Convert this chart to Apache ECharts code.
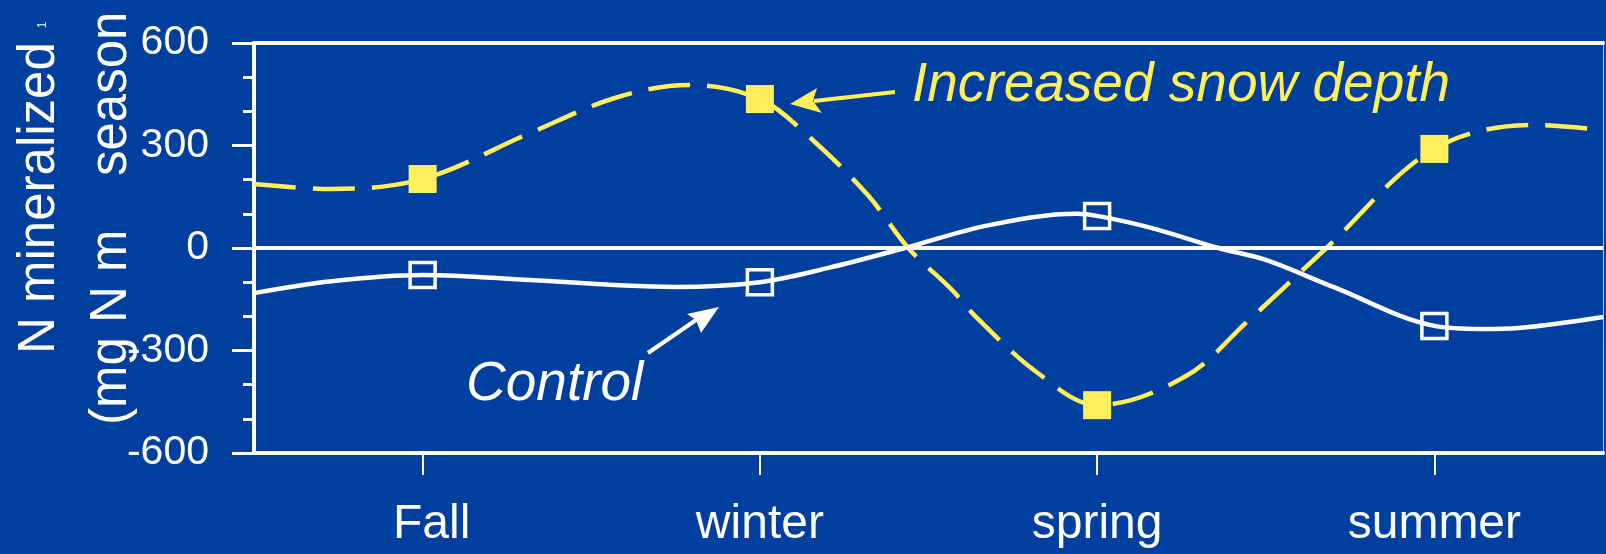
<!DOCTYPE html>
<html>
<head>
<meta charset="utf-8">
<script src="https://cdn.jsdelivr.net/npm/echarts@6/dist/echarts.min.js"></script>
<style>
html,body{margin:0;padding:0;background:#003F9E;}
#chart{width:1606px;height:554px;}
</style>
</head>
<body>
<div id="chart"></div>
<script>
// ---- data ----
const categories = ['Fall', 'winter', 'spring', 'summer'];
const yTicks = [-600, -300, 0, 300, 600];
const snowValues = [202, 436, -460, 290];
const controlValues = [-79, -100, 94, -228];
// smooth curve traces (x in category units: 0 = left edge, 4 = right edge)
const snowCurveX = [0, 0.23, 0.5, 0.82, 1.07, 1.29, 1.5, 1.64, 1.82, 1.94, 2.07, 2.14, 2.32, 2.5, 2.76, 2.95, 3.18, 3.5, 3.8, 4.0];
const snowCurveY = [187, 173, 202, 337, 439, 477, 436, 331, 155, 0, -123, -201, -363, -460, -377, -211, 0, 290, 360, 345];
const controlCurveX = [0, 0.23, 0.5, 0.82, 1.1, 1.25, 1.5, 1.7, 1.93, 2.18, 2.44, 2.5, 2.66, 2.86, 3.0, 3.2, 3.5, 3.64, 3.75, 4.0];
const controlCurveY = [-132, -97, -79, -94, -110, -114, -100, -59, 0, 67, 100, 94, 59, 0, -35, -114, -228, -237, -234, -202];

const BG = '#003F9E';
const YEL = '#FFEF5A';
const FONT = '"Liberation Sans", Arial, sans-serif';

const chart = echarts.init(document.getElementById('chart'));
const pairs = (xs, ys) => xs.map((x, i) => [x, ys[i]]);
const pointPairs = vals => vals.map((v, i) => [i + 0.5, v]);

chart.setOption({
  backgroundColor: BG,
  animation: false,
  grid: { left: 254, right: 3, top: 43, bottom: 101, containLabel: false },
  xAxis: [
    {
      type: 'category', data: categories, position: 'bottom', boundaryGap: true,
      axisLine: { show: true, onZero: false, lineStyle: { color: '#fff', width: 4 } },
      axisTick: { show: true, alignWithLabel: true, length: 22, lineStyle: { color: '#fff', width: 2 } },
      axisLabel: {
        color: '#fff', fontSize: 48, fontFamily: FONT, margin: 48,
        formatter: (v, i) => i === 0 ? '{f|' + v + '}' : v,
        rich: { f: { color: '#fff', fontSize: 48, fontFamily: FONT, padding: [0, 0, 0, 18] } }
      },
      splitLine: { show: false }
    },
    {
      type: 'value', min: 0, max: 4, position: 'top',
      axisLine: { show: true, onZero: false, lineStyle: { color: '#fff', width: 4 } },
      axisTick: { show: false }, axisLabel: { show: false }, splitLine: { show: false }
    }
  ],
  yAxis: [
    {
      type: 'value', min: yTicks[0], max: yTicks[yTicks.length - 1], interval: 300,
      axisLine: { show: true, onZero: false, lineStyle: { color: '#fff', width: 4 } },
      axisTick: { show: true, length: 22, lineStyle: { color: '#fff', width: 3 } },
      minorTick: { show: true, splitNumber: 3, length: 11, lineStyle: { color: '#fff', width: 3 } },
      axisLabel: { color: '#fff', fontSize: 41, fontFamily: FONT, margin: 45 },
      splitLine: { show: false }, minorSplitLine: { show: false }
    },
    {
      type: 'value', min: yTicks[0], max: yTicks[yTicks.length - 1], position: 'right',
      axisLine: { show: true, onZero: false, lineStyle: { color: 'rgba(255,255,255,0.7)', width: 1 } },
      axisTick: { show: false }, axisLabel: { show: false }, splitLine: { show: false }
    }
  ],
  series: [
    {
      name: 'Control curve', type: 'line', xAxisIndex: 1, yAxisIndex: 0,
      data: pairs(controlCurveX, controlCurveY), smooth: 0.35, symbol: 'none',
      lineStyle: { color: '#fff', width: 4.5 }, z: 3,
      markLine: {
        silent: true, symbol: 'none', label: { show: false },
        lineStyle: { color: '#fff', width: 4, type: 'solid' },
        data: [{ yAxis: 0 }]
      }
    },
    {
      name: 'Snow curve', type: 'line', xAxisIndex: 1, yAxisIndex: 0,
      data: pairs(snowCurveX, snowCurveY), smooth: 0.35, symbol: 'none',
      lineStyle: { color: YEL, width: 4.5, type: [42, 17] }, z: 4
    },
    {
      name: 'Control', type: 'scatter', xAxisIndex: 1, yAxisIndex: 0,
      data: pointPairs(controlValues), symbol: 'rect', symbolSize: 25,
      itemStyle: { color: 'rgba(0,0,0,0)', borderColor: '#fff', borderWidth: 3.5, opacity: 1 }, z: 5
    },
    {
      name: 'Increased snow depth', type: 'scatter', xAxisIndex: 1, yAxisIndex: 0,
      data: pointPairs(snowValues), symbol: 'rect', symbolSize: 28,
      itemStyle: { color: YEL, opacity: 1 }, z: 6
    }
  ],
  graphic: [
    // y-axis title
    { type: 'text', x: 40, y: 354, rotation: Math.PI / 2, z: 100,
      style: { text: 'N mineralized', font: '51px ' + FONT, fill: '#fff', align: 'left', verticalAlign: 'middle' } },
    { type: 'text', x: 43, y: 25, rotation: Math.PI / 2, z: 100,
      style: { text: '1', font: '12px ' + FONT, fill: '#fff', align: 'center', verticalAlign: 'middle' } },
    { type: 'text', x: 112, y: 425, rotation: Math.PI / 2, z: 100,
      style: { text: '(mg N m', font: '51px ' + FONT, fill: '#fff', align: 'left', verticalAlign: 'middle' } },
    { type: 'text', x: 112, y: 176, rotation: Math.PI / 2, z: 100,
      style: { text: 'season', font: '51px ' + FONT, fill: '#fff', align: 'left', verticalAlign: 'middle' } },
    // annotations
    { type: 'text', x: 912, y: 86, z: 100,
      style: { text: 'Increased snow depth', font: 'italic 55px ' + FONT, fill: YEL, align: 'left', verticalAlign: 'middle' } },
    { type: 'polyline', z: 100, shape: { points: [[895, 92], [814, 101]] },
      style: { stroke: YEL, lineWidth: 4, fill: null } },
    { type: 'polygon', z: 100, shape: { points: [[790, 104], [817, 88], [813, 101], [822, 113]] },
      style: { fill: YEL } },
    { type: 'text', x: 466, y: 385, z: 100,
      style: { text: 'Control', font: 'italic 55px ' + FONT, fill: '#fff', align: 'left', verticalAlign: 'middle' } },
    { type: 'polyline', z: 100, shape: { points: [[648, 353], [696, 320]] },
      style: { stroke: '#fff', lineWidth: 4, fill: null } },
    { type: 'polygon', z: 100, shape: { points: [[719, 307], [687, 314], [696, 320], [701, 333]] },
      style: { fill: '#fff' } }
  ]
});
</script>
</body>
</html>
